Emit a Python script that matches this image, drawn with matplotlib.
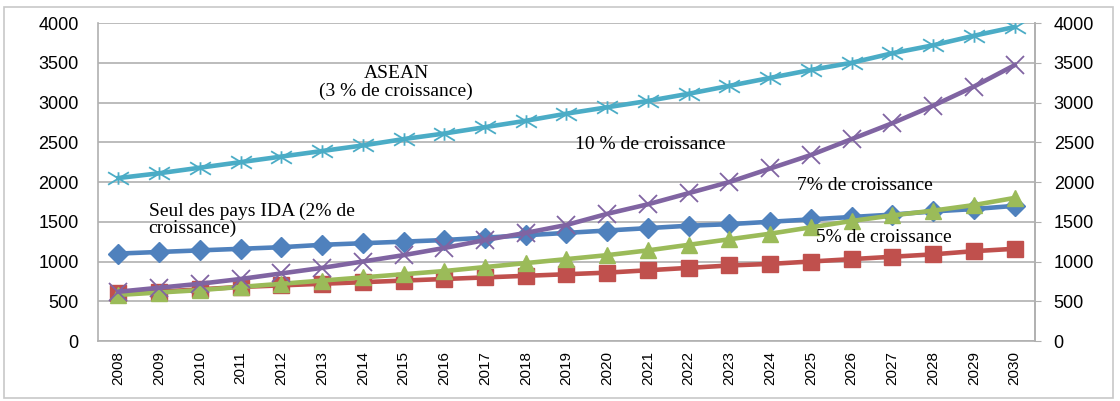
import matplotlib.pyplot as plt
from matplotlib.patches import Rectangle
from matplotlib.path import Path

years = list(range(2008, 2031))
year_labels = [str(y) for y in years]

asean_3 = [2050, 2110, 2180, 2250, 2320, 2390, 2460, 2540, 2610, 2690, 2770, 2860,
           2940, 3020, 3110, 3210, 3310, 3410, 3500, 3620, 3720, 3840, 3950]
ida_2 = [1100, 1120, 1140, 1160, 1180, 1210, 1230, 1250, 1270, 1300, 1330, 1360,
         1390, 1420, 1450, 1470, 1500, 1530, 1560, 1590, 1630, 1660, 1700]
growth_10 = [620, 670, 720, 780, 850, 920, 1000, 1080, 1170, 1270, 1360, 1460,
             1600, 1720, 1860, 2000, 2170, 2340, 2540, 2740, 2960, 3200, 3470]
growth_7 = [580, 610, 640, 680, 720, 760, 800, 840, 880, 930, 980, 1030,
            1080, 1140, 1210, 1280, 1350, 1430, 1510, 1580, 1640, 1710, 1800]
growth_5 = [600, 620, 650, 680, 700, 720, 740, 760, 780, 800, 820, 840,
            860, 890, 920, 950, 970, 1000, 1030, 1060, 1090, 1130, 1160]

y_ticks = [0, 500, 1000, 1500, 2000, 2500, 3000, 3500, 4000]

GRID = '#b0b0b0'
SERIF = ['Liberation Serif', 'DejaVu Serif']
SANS = ['Liberation Sans', 'DejaVu Sans']

# Excel-like star marker: a flat X with a vertical stroke
star = Path([(-1, -0.6), (1, 0.6), (-1, 0.6), (1, -0.6), (0, -0.6), (0, 0.6)],
            [Path.MOVETO, Path.LINETO, Path.MOVETO, Path.LINETO, Path.MOVETO, Path.LINETO])

fig = plt.figure(figsize=(11.2, 4.01), dpi=100)
ax = fig.add_axes([0.0875, 0.1496, 0.8366, 0.793])
x = list(range(len(years)))

ax.plot(x, ida_2, color='#4F81BD', lw=3.3, marker='D', ms=10, zorder=3)
ax.plot(x, growth_5, color='#C0504D', lw=3.3, marker='s', ms=11, zorder=3)
ax.plot(x, growth_7, color='#9BBB59', lw=3.3, marker='^', ms=11, zorder=3)
ax.plot(x, growth_10, color='#8064A2', lw=3.3, marker='x', ms=13, mew=1.3, zorder=4)
ax.plot(x, asean_3, color='#4BACC6', lw=3.3, marker=star, ms=15, mew=1.3,
        mfc='none', zorder=4)

ax.set_xlim(-0.5, len(years) - 0.5)
ax.set_ylim(0, 4000)
ax.set_yticks(y_ticks)
ax.set_xticks(x)
ax.set_xticklabels(year_labels, rotation=90, fontsize=11, family=SANS)
ax.tick_params(axis='y', labelsize=13, length=0, pad=14)
ax.tick_params(axis='x', length=0, pad=7)
for lab in ax.get_yticklabels():
    lab.set_family(SANS)
ax.grid(axis='y', color=GRID, lw=1.2)
ax.set_axisbelow(True)
ax.spines['top'].set_visible(False)
for side in ['left', 'right', 'bottom']:
    ax.spines[side].set_color(GRID)
    ax.spines[side].set_linewidth(1.2)

ax2 = ax.twinx()
ax2.set_ylim(0, 4000)
ax2.set_yticks(y_ticks)
ax2.tick_params(axis='y', labelsize=13, length=4.5, color=GRID, pad=9)
for lab in ax2.get_yticklabels():
    lab.set_family(SANS)
for side in ['top', 'left', 'bottom']:
    ax2.spines[side].set_visible(False)
ax2.spines['right'].set_color(GRID)
ax2.spines['right'].set_linewidth(1.2)

# annotations
note = dict(fontsize=14, family=SERIF, va='center')
ax.text(6.82, 3370, 'ASEAN', ha='center', **note)
ax.text(6.8, 3145, '(3 % de croissance)', ha='center', **note)
ax.text(11.21, 2466, '10 % de croissance', **note)
ax.text(16.65, 1950, '7% de croissance', **note)
ax.text(0.74, 1635, 'Seul des pays IDA (2% de', **note)
ax.text(0.74, 1421, 'croissance)', **note)
ax.text(17.12, 1308, '5% de croissance', **note)

fig.patches.append(Rectangle((0.004, 0.007), 0.99, 0.975, transform=fig.transFigure,
                             fill=False, edgecolor='#c8c8c8', lw=1.2))

fig.savefig('out.png', dpi=100)
